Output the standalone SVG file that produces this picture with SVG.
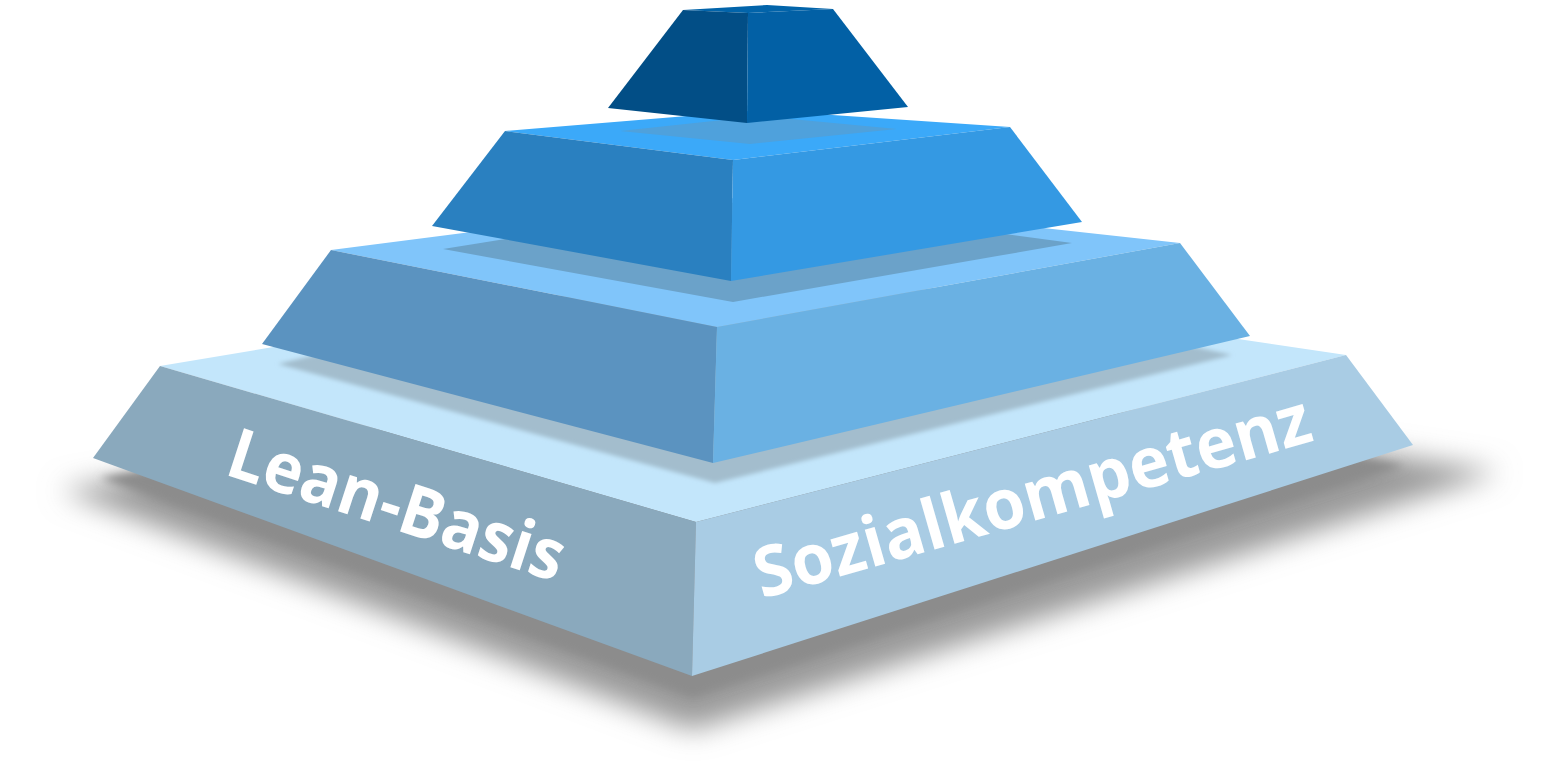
<svg xmlns="http://www.w3.org/2000/svg" width="1549" height="774" viewBox="0 0 1549 774">
  <defs>
    <filter id="blurBig" x="-20%" y="-50%" width="140%" height="200%">
      <feGaussianBlur stdDeviation="14"/>
    </filter>
    <filter id="blurMid" x="-20%" y="-50%" width="140%" height="200%">
      <feGaussianBlur stdDeviation="4"/>
    </filter>
    <filter id="blurSmall" x="-10%" y="-30%" width="120%" height="160%">
      <feGaussianBlur stdDeviation="2"/>
    </filter>
  </defs>
  <style>
    .label { font-family: "Open Sans", "Liberation Sans", sans-serif; font-weight: 700; font-size: 70px; fill: #ffffff; }
  </style>
  <rect width="1549" height="774" fill="#ffffff"/>

  <g id="shadow">
    <polygon points="60,490 692,730 1500,472 800,360" fill="#9a9a9a" filter="url(#blurBig)"/>
    <polygon points="100,478 692,698 1405,466 800,350" fill="#8c8c8c" filter="url(#blurMid)"/>
  </g>

  <g id="tier1">
    <polygon points="160,366 750,267 1346,355 696,522" fill="#c3e6fb"/>
    <polygon points="278,364 715,483 1232,355 750,250" fill="#a3bdcd" filter="url(#blurSmall)"/>
    <polygon points="160,366 696,522 692,676 93,458" fill="#8aa9bd"/>
    <polygon points="696,522 1346,355 1413,445 692,676" fill="#a9cce4"/>
    <text class="label" transform="translate(223,474) rotate(18)" textLength="350" lengthAdjust="spacingAndGlyphs">Lean-Basis</text>
    <text class="label" transform="translate(762,599) rotate(-16)" textLength="576" lengthAdjust="spacingAndGlyphs">Sozialkompetenz</text>
  </g>

  <g id="tier2">
    <polygon points="331,250 750,196 1180,243 717,327" fill="#80c5fa"/>
    <polygon points="443,249 733,302 1072,243 750,200" fill="#6ba2c9"/>
    <polygon points="331,250 717,327 713,463 262,344" fill="#5b93c0"/>
    <polygon points="717,327 1180,243 1250,336 713,463" fill="#6ab1e3"/>
  </g>

  <g id="tier3">
    <polygon points="505,131 760,110 1010,127 733,160" fill="#3ba9f9"/>
    <polygon points="620,131 750,144 897,129 760,116" fill="#4fa1dc"/>
    <polygon points="505,131 733,160 731,281 432,226" fill="#2a80c0"/>
    <polygon points="733,160 1010,127 1082,222 731,281" fill="#3499e3"/>
  </g>

  <g id="tier4">
    <polygon points="683,10 767,5 833,9 748,13" fill="#0264aa"/>
    <polygon points="683,10 748,13 747,123 608,108" fill="#024e86"/>
    <polygon points="748,13 833,9 908,107 747,123" fill="#0260a5"/>
  </g>
</svg>
